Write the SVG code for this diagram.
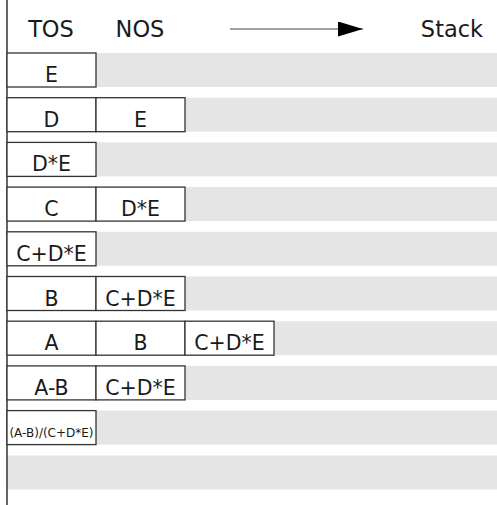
<svg xmlns="http://www.w3.org/2000/svg" width="497" height="505" viewBox="0 0 497 505">
<style>
.band{fill:#e5e5e5}
.box{fill:#fff;stroke:#333;stroke-width:1.3}
text{font-family:"DejaVu Sans",sans-serif;fill:#1a1a1a;text-anchor:middle}
.h{font-size:22.5px}
.t{font-size:20.5px}
.s{font-size:12px}
</style>
<defs>
<marker id="ah" markerWidth="25" markerHeight="15" refX="25" refY="7.5" orient="auto" markerUnits="userSpaceOnUse">
<path d="M0,0 L25,7.5 L0,15 Z" fill="#000"/>
</marker>
</defs>
<g id="bands">
<rect class="band" x="7" y="53" width="490" height="34"/>
<rect class="band" x="7" y="97.7" width="490" height="34"/>
<rect class="band" x="7" y="142.4" width="490" height="34"/>
<rect class="band" x="7" y="187.1" width="490" height="34"/>
<rect class="band" x="7" y="231.8" width="490" height="34"/>
<rect class="band" x="7" y="276.5" width="490" height="34"/>
<rect class="band" x="7" y="321.2" width="490" height="34"/>
<rect class="band" x="7" y="365.9" width="490" height="34"/>
<rect class="band" x="7" y="410.6" width="490" height="34"/>
<rect class="band" x="7" y="455.5" width="490" height="34"/>
</g>
<g id="headers">
<text class="h" x="51" y="37">TOS</text>
<text class="h" x="140" y="37">NOS</text>
<text class="h" x="452" y="37">Stack</text>
</g>
<g id="connectors">
<line x1="7" y1="0" x2="7" y2="505" stroke="#333" stroke-width="1.5"/>
<line x1="230" y1="29" x2="363" y2="29" stroke="#444" stroke-width="1.2" marker-end="url(#ah)"/>
</g>
<g id="row1">
<rect class="box" x="7" y="53" width="89" height="34"/><text class="t" x="51.5" y="82">E</text>
</g>
<g id="row2">
<rect class="box" x="7" y="97.7" width="89" height="34"/><text class="t" x="51.5" y="126.7">D</text>
<rect class="box" x="96" y="97.7" width="89" height="34"/><text class="t" x="140.5" y="126.7">E</text>
</g>
<g id="row3">
<rect class="box" x="7" y="142.4" width="89" height="34"/><text class="t" x="51.5" y="171.4">D*E</text>
</g>
<g id="row4">
<rect class="box" x="7" y="187.1" width="89" height="34"/><text class="t" x="51.5" y="216.1">C</text>
<rect class="box" x="96" y="187.1" width="89" height="34"/><text class="t" x="140.5" y="216.1">D*E</text>
</g>
<g id="row5">
<rect class="box" x="7" y="231.8" width="89" height="34"/><text class="t" x="51.5" y="260.8">C+D*E</text>
</g>
<g id="row6">
<rect class="box" x="7" y="276.5" width="89" height="34"/><text class="t" x="51.5" y="305.5">B</text>
<rect class="box" x="96" y="276.5" width="89" height="34"/><text class="t" x="140.5" y="305.5">C+D*E</text>
</g>
<g id="row7">
<rect class="box" x="7" y="321.2" width="89" height="34"/><text class="t" x="51.5" y="350.2">A</text>
<rect class="box" x="96" y="321.2" width="89" height="34"/><text class="t" x="140.5" y="350.2">B</text>
<rect class="box" x="185" y="321.2" width="89" height="34"/><text class="t" x="229.5" y="350.2">C+D*E</text>
</g>
<g id="row8">
<rect class="box" x="7" y="365.9" width="89" height="34"/><text class="t" x="51.5" y="394.9">A-B</text>
<rect class="box" x="96" y="365.9" width="89" height="34"/><text class="t" x="140.5" y="394.9">C+D*E</text>
</g>
<g id="row9">
<rect class="box" x="7" y="410.6" width="89" height="34"/><text class="s" x="51.5" y="437">(A-B)/(C+D*E)</text>
</g>
</svg>
